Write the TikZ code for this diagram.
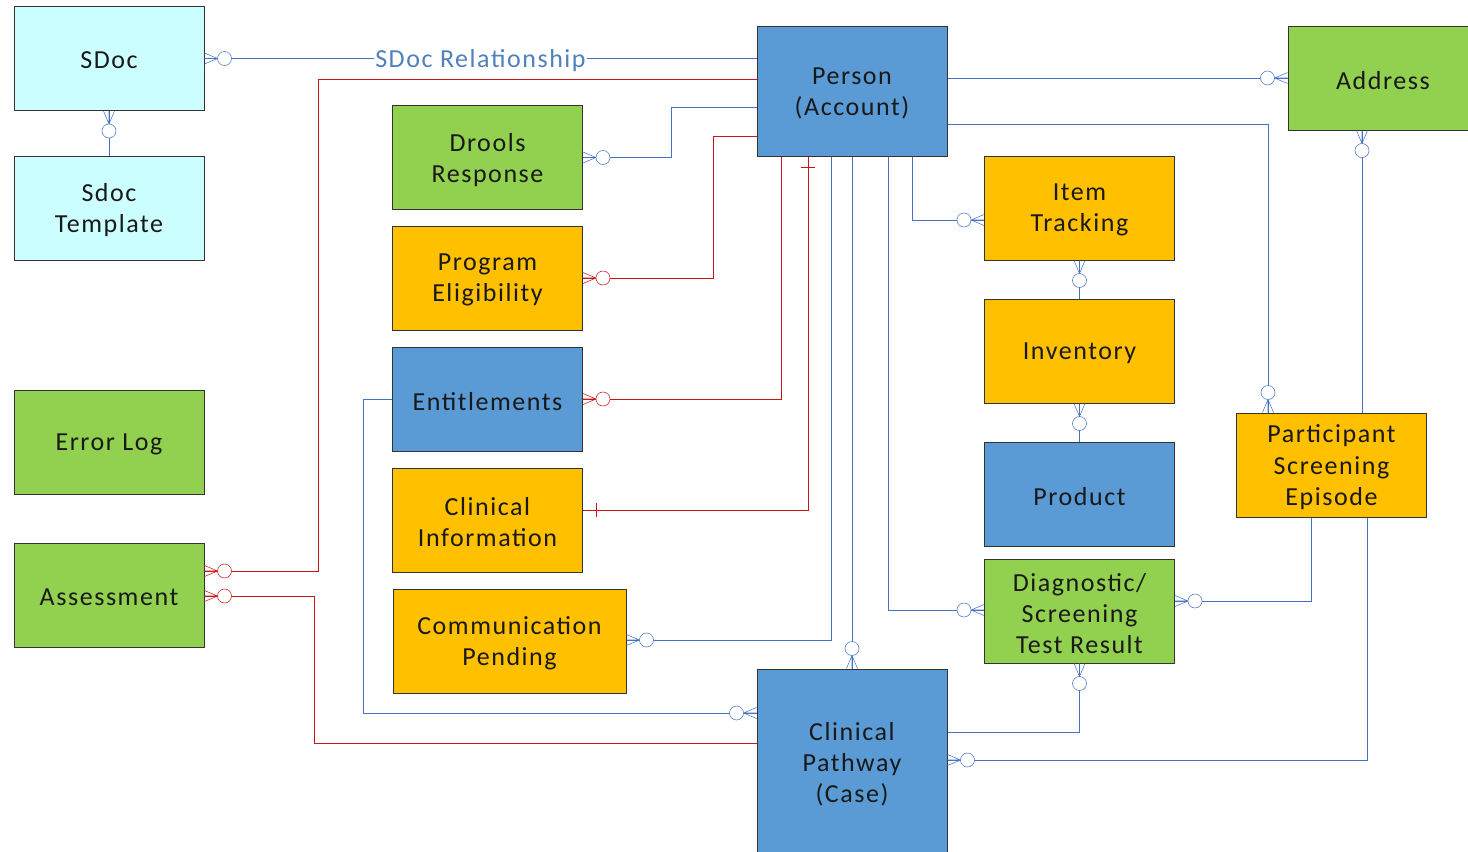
\documentclass[tikz,border=0pt]{standalone}
\usepackage{fontspec}
\setmainfont{Carlito}[LetterSpace=6]
\definecolor{bluebox}{RGB}{91,155,213}
\definecolor{greenbox}{RGB}{146,208,80}
\definecolor{orangebox}{RGB}{255,192,0}
\definecolor{cyanbox}{RGB}{204,255,255}
\definecolor{lnblue}{RGB}{68,114,196}
\definecolor{lnred}{RGB}{204,20,20}
\definecolor{lblblue}{RGB}{79,129,189}
\newcommand\zm[3]{\begin{scope}[shift={#2},rotate=#3]
  \draw[#1] (0,5.5)--(13,0)--(0,-5.5) (0,0)--(13,0);
  \draw[#1,fill=white] (20,0) circle[radius=7];
\end{scope}}
\tikzset{
  entlbl/.style={inner sep=0pt,align=center,text=black!90,yshift=-1.6pt,
    font=\fontsize{19.5pt}{23.3pt}\selectfont},
  ent/.style={draw=black!80,line width=0.75pt,inner sep=0pt,
    minimum width=142.5pt,minimum height=78pt,
    label={[entlbl]center:{#1}}},
  bl/.style={draw=lnblue,line width=0.75pt},
  rd/.style={draw=lnred,line width=0.75pt},
}
\begin{document}
\begin{tikzpicture}[x=0.75pt,y=-0.75pt]
\useasboundingbox (0,0) rectangle (1468,851);
\clip (0,0) rectangle (1468,851);
% entities
\node[ent={SDoc},fill=cyanbox] (sdoc) at (109,58.5) {};
\node[ent={Sdoc\\Template},fill=cyanbox] (tmpl) at (109,208) {};
\node[ent={Error Log},fill=greenbox] (err) at (109,442) {};
\node[ent={Assessment},fill=greenbox] (assess) at (109,595) {};
\node[ent={Drools\\Response},fill=greenbox] (drools) at (487.5,157.5) {};
\node[ent={Program\\Eligibility},fill=orangebox] (prog) at (487.5,278) {};
\node[ent={Entitlements},fill=bluebox] (entit) at (487.5,399) {};
\node[ent={Clinical\\Information},fill=orangebox] (clin) at (487.5,520) {};
\node[ent={Communication\\Pending},fill=orangebox,minimum width=174.75pt] (comm) at (509.5,641) {};
\node[ent={Person\\(Account)},fill=bluebox,minimum height=97.5pt] (person) at (852,91) {};
\node[ent={Item\\Tracking},fill=orangebox] (item) at (1079.5,208) {};
\node[ent={Inventory},fill=orangebox] (inv) at (1079.5,351) {};
\node[ent={Product},fill=bluebox] (prod) at (1079.5,494) {};
\node[ent={Diagnostic/\\Screening\\Test Result},fill=greenbox] (diag) at (1079.5,611) {};
\node[ent={Address},fill=greenbox] (addr) at (1383,78) {};
\node[ent={Participant\\Screening\\Episode},fill=orangebox] (part) at (1331.5,465) {};
\node[ent={Clinical\\Pathway\\(Case)},fill=bluebox,minimum height=139.5pt] (cp) at (852,762) {};
% connectors
\draw[bl] (sdoc.east) -- node[fill=white,inner sep=1pt,yshift=-1.5pt,text=lblblue,font=\fontsize{19.5pt}{23.3pt}\selectfont] {SDoc Relationship} (person.west |- sdoc.east);
\zm{lnblue}{(sdoc.east)}{0}
\draw[bl] (sdoc.south) -- (tmpl.north);
\zm{lnblue}{(sdoc.south)}{270}
\draw[rd] (person.west |- 0,79) -- (318,79) -- (318,571) -- (assess.east |- 0,571);
\zm{lnred}{(assess.east |- 0,571)}{0}
\draw[bl] (person.west |- 0,107) -- (671,107) -- (671,157.5) -- (drools.east);
\zm{lnblue}{(drools.east)}{0}
\draw[rd] (person.west |- 0,136) -- (713,136) -- (713,278) -- (prog.east);
\zm{lnred}{(prog.east)}{0}
\draw[rd] (781,0 |- person.south) -- (781,399) -- (entit.east);
\zm{lnred}{(entit.east)}{0}
\draw[rd] (808,0 |- person.south) -- (808,510) -- (clin.east |- 0,510);
\draw[rd] (801,167) -- (815,167) (596,503) -- (596,517);
\draw[bl] (831,0 |- person.south) -- (831,640) -- (comm.east |- 0,640);
\zm{lnblue}{(comm.east |- 0,640)}{0}
\draw[bl] (852,0 |- person.south) -- (cp.north);
\zm{lnblue}{(cp.north)}{90}
\draw[bl] (888,0 |- person.south) -- (888,610) -- (diag.west |- 0,610);
\zm{lnblue}{(diag.west |- 0,610)}{180}
\draw[bl] (912,0 |- person.south) -- (912,220) -- (item.west |- 0,220);
\zm{lnblue}{(item.west |- 0,220)}{180}
\draw[bl] (person.east |- 0,78) -- (addr.west |- 0,78);
\zm{lnblue}{(addr.west |- 0,78)}{180}
\draw[bl] (person.east |- 0,124) -- (1268,124) -- (1268,0 |- part.north);
\zm{lnblue}{(1268,0 |- part.north)}{90}
\draw[bl] (item.south) -- (inv.north);
\zm{lnblue}{(item.south)}{270}
\draw[bl] (inv.south) -- (prod.north);
\zm{lnblue}{(inv.south)}{270}
\draw[bl] (1362,0 |- addr.south) -- (1362,0 |- part.north);
\zm{lnblue}{(1362,0 |- addr.south)}{270}
\draw[bl] (1311,0 |- part.south) -- (1311,601) -- (diag.east |- 0,601);
\zm{lnblue}{(diag.east |- 0,601)}{0}
\draw[bl] (1367,0 |- part.south) -- (1367,760) -- (cp.east |- 0,760);
\zm{lnblue}{(cp.east |- 0,760)}{0}
\draw[bl] (diag.south) -- (1079.5,732) -- (cp.east |- 0,732);
\zm{lnblue}{(diag.south)}{270}
\draw[bl] (entit.west) -- (363,399) -- (363,713) -- (cp.west |- 0,713);
\zm{lnblue}{(cp.west |- 0,713)}{180}
\draw[rd] (assess.east |- 0,596) -- (314,596) -- (314,743) -- (cp.west |- 0,743);
\zm{lnred}{(assess.east |- 0,596)}{0}
\end{tikzpicture}
\end{document}
